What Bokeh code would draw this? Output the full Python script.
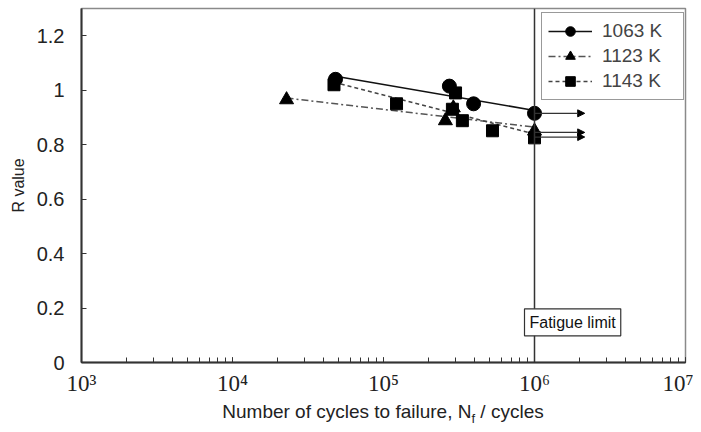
import numpy as np
from bokeh.plotting import figure
from bokeh.layouts import column
from bokeh.models import (Range1d, FixedTicker, LogTicker, CustomJSTickFormatter, NumeralTickFormatter,
                          Label, Span, Arrow, NormalHead, Legend, LegendItem, Div)
from bokeh.embed import file_html
from bokeh.resources import INLINE

# ---- data ----
n_1063 = [48100, 273000, 395000, 1.0e6]
r_1063 = [1.040, 1.015, 0.950, 0.915]

n_1123 = [22800, 257000, 290000, 1.0e6]
r_1123 = [0.965, 0.888, 0.935, 0.850]

n_1143 = [47000, 122000, 300000, 286000, 333000, 527000, 1.0e6]
r_1143 = [1.020, 0.950, 0.990, 0.930, 0.888, 0.851, 0.825]

runout_start = [1.0e6, 1.0e6, 1.0e6]
runout_end = [2.15e6, 2.15e6, 2.15e6]
runout_r = [0.915, 0.845, 0.828]

fatigue_limit = 1.0e6
y_ticks = [0, 0.2, 0.4, 0.6, 0.8, 1.0, 1.2]
labels = ["1063 K", "1123 K", "1143 K"]

FONT = "Liberation Sans"

p = figure(width=693, height=398, x_axis_type="log",
           x_range=Range1d(1e3, 1e7), y_range=Range1d(0, 1.3),
           output_backend="svg", toolbar_location=None,
           min_border_left=81, min_border_right=8, min_border_top=8, min_border_bottom=33)
p.xgrid.visible = False
p.ygrid.visible = False
p.outline_line_color = "#8a8a8a"
p.outline_line_width = 1.5
p.background_fill_color = "white"
p.border_fill_color = "white"

# axes
for ax in (p.xaxis[0], p.yaxis[0]):
    ax.axis_line_color = "#333333"
    ax.axis_line_width = 2
    ax.major_tick_line_color = "#333333"
    ax.major_tick_in = 5
    ax.major_tick_out = 0
    ax.major_label_text_color = "#222222"

p.yaxis.ticker = FixedTicker(ticks=y_ticks)
p.yaxis.formatter = NumeralTickFormatter(format="0.[0]")
p.yaxis.minor_tick_line_color = None
p.yaxis.major_label_text_font = FONT
p.yaxis.major_label_text_font_size = "20px"
p.yaxis.major_label_standoff = 17
p.yaxis.axis_label = "R value"
p.yaxis.axis_label_text_font = FONT
p.yaxis.axis_label_text_font_size = "16px"
p.yaxis.axis_label_text_font_style = "normal"
p.yaxis.axis_label_text_color = "#222222"
p.yaxis.axis_label_standoff = 7

p.xaxis.ticker = LogTicker(desired_num_ticks=5, num_minor_ticks=10)
p.xaxis.formatter = CustomJSTickFormatter(code="""
const sup = {"2":"\u00b2","3":"\u00b3","4":"\u2074","5":"\u2075","6":"\u2076","7":"\u2077","8":"\u2078"};
const e = String(Math.round(Math.log10(tick)));
return "10" + (sup[e] || e);
""")
p.xaxis.minor_tick_line_color = "#333333"
p.xaxis.minor_tick_in = 5
p.xaxis.minor_tick_out = 0
p.xaxis.major_label_text_font = "Liberation Serif"
p.xaxis.major_label_text_font_size = "23px"
p.xaxis.major_label_standoff = 8

# fatigue limit line
p.add_layout(Span(location=fatigue_limit, dimension="height", line_color="#333333", line_width=1.5))

# trend lines (linear in log10 N) and markers
def fit_line(n, r):
    lx = np.log10(n)
    k, b = np.polyfit(lx, r, 1)
    xs = np.array([lx.min(), lx.max()])
    return list(10 ** xs), list(k * xs + b)

renderers = []
styles = [
    dict(dash="solid", color="#111111", marker="circle", size=14),
    dict(dash="7 3 2 3", color="#555555", marker="triangle", size=14),
    dict(dash="4 3", color="#444444", marker="square", size=12),
]
for (n, r), st in zip([(n_1063, r_1063), (n_1123, r_1123), (n_1143, r_1143)], styles):
    fx, fy = fit_line(n, r)
    lr = p.line(fx, fy, line_color=st["color"], line_width=1.5, line_dash=st["dash"])
    sr = p.scatter(n, r, marker=st["marker"], size=st["size"], fill_color="black", line_color="black")
    renderers.append((lr, sr))

# run-out arrows
for xs, xe, y in zip(runout_start, runout_end, runout_r):
    p.add_layout(Arrow(x_start=xs, y_start=y, x_end=xe, y_end=y, line_color="#333333", line_width=1.2,
                       end=NormalHead(size=7, fill_color="black", line_color="black")))

# legend
legend = Legend(items=[LegendItem(label=lab, renderers=list(rs)) for lab, rs in zip(labels, renderers)],
                location=(460, 262), label_text_font=FONT, label_text_font_size="19px",
                glyph_width=44, glyph_height=24, label_height=24, label_width=75, spacing=1,
                padding=6, margin=0, label_standoff=10,
                border_line_color="#333333", border_line_width=1.5,
                background_fill_color="white", background_fill_alpha=1)
p.add_layout(legend)

# fatigue limit box
p.add_layout(Label(x=fatigue_limit, y=0.098, x_offset=-10, text="Fatigue limit",
                   text_font=FONT, text_font_size="16px", text_color="#111111",
                   text_align="left", text_baseline="bottom", padding=5,
                   background_fill_color="white", border_line_color="#333333", border_line_width=1.2))

# x-axis title (with subscript) below the plot
xlabel = Div(text="Number of cycles to failure, N<sub style='font-size:13px'>f</sub> / cycles",
             width=604, height=30, margin=(0, 0, 0, 81),
             styles={"text-align": "center", "font-family": FONT, "font-size": "19px",
                     "color": "#222222", "line-height": "28px"})

layout = column(p, xlabel, spacing=0)
open("out.html", "w").write(file_html(layout, INLINE))
